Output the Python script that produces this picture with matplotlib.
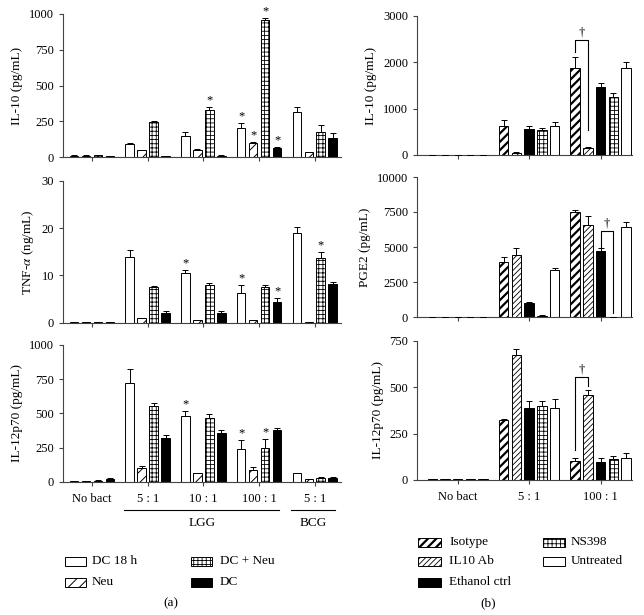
import numpy as np
import matplotlib
matplotlib.use('Agg')
import matplotlib.pyplot as plt
import matplotlib.transforms as mtransforms
from matplotlib.patches import Rectangle

plt.rcParams['font.family'] = ['Liberation Serif', 'DejaVu Serif']
plt.rcParams['mathtext.fontset'] = 'stix'
plt.rcParams['font.size'] = 9

# ---- data, panel (a) ----
a_groups = ['No bact', '5 : 1', '10 : 1', '100 : 1', '5 : 1']
a_series = ['DC 18 h', 'Neu', 'DC + Neu', 'DC']

a_il10 = [[10, 93, 150, 200, 315],
          [10, 50, 50, 100, 35],
          [13, 243, 332, 955, 177],
          [8, 8, 10, 62, 135]]
a_il10_err = [[2, 5, 28, 35, 35],
              [1, 2, 3, 6, 3],
              [2, 10, 15, 18, 47],
              [1, 2, 2, 8, 33]]
a_il10_stars = [(2, 2), (3, 0), (3, 1), (3, 2), (3, 3)]

a_tnf = [[0.1, 13.9, 10.6, 6.2, 18.9],
         [0.05, 1.0, 0.6, 0.6, 0.1],
         [0.1, 7.5, 8.0, 7.5, 13.6],
         [0.1, 2.0, 2.0, 4.4, 8.2]]
a_tnf_err = [[0, 1.5, 0.6, 1.7, 1.4],
             [0, 0, 0, 0, 0],
             [0, 0.3, 0.4, 0.5, 1.3],
             [0, 0.4, 0.4, 0.9, 0.5]]
a_tnf_stars = [(2, 0), (3, 0), (3, 3), (4, 2)]

a_il12 = [[5, 724, 480, 237, 60],
          [5, 102, 60, 83, 20],
          [8, 554, 468, 249, 27],
          [20, 320, 358, 378, 28]]
a_il12_err = [[1, 100, 35, 70, 4],
              [1, 12, 3, 25, 2],
              [2, 25, 30, 60, 4],
              [4, 25, 20, 12, 3]]
a_il12_stars = [(2, 0), (3, 0), (3, 2)]

# ---- data, panel (b) ----
b_groups = ['No bact', '5 : 1', '100 : 1']
b_series = ['Isotype', 'IL10 Ab', 'Ethanol ctrl', 'NS398', 'Untreated']

b_il10 = [[10, 626, 1885],
          [10, 50, 158],
          [10, 554, 1460],
          [10, 540, 1259],
          [10, 633, 1885]]
b_il10_err = [[0, 136, 237], [0, 5, 15], [0, 70, 100], [0, 40, 80], [0, 90, 122]]

b_pge2 = [[30, 3905, 7500],
          [30, 4450, 6600],
          [30, 1000, 4700],
          [30, 100, 30],
          [30, 3333, 6450]]
b_pge2_err = [[0, 400, 150], [0, 450, 600], [0, 100, 250], [0, 30, 0], [0, 150, 350]]

b_il12 = [[5, 323, 104],
          [5, 671, 458],
          [5, 386, 95],
          [5, 398, 111],
          [5, 386, 120]]
b_il12_err = [[0, 5, 12], [0, 35, 25], [0, 40, 25], [0, 25, 20], [0, 50, 25]]

# bracket: group, bar1, bar2, top, left foot, right foot
b_il10_bracket = (2, 0, 1, 2480, 2230, 540)
b_pge2_bracket = (2, 2, 3, 6150, 4950, 300)
b_il12_bracket = (2, 0, 1, 553, 160, 505)

a_styles = [dict(color='white', hatch=None, hlw=0.7),
            dict(color='white', hatch='///', hlw=0.7),
            dict(color='white', hatch='++++', hlw=0.6),
            dict(color='black', hatch=None, hlw=0.7)]
b_styles = [dict(color='white', hatch='////', hlw=1.6),
            dict(color='white', hatch='//////', hlw=0.6),
            dict(color='black', hatch=None, hlw=0.7),
            dict(color='white', hatch='++++', hlw=0.6),
            dict(color='white', hatch=None, hlw=0.7)]

W, H = 644, 615
fig = plt.figure(figsize=(W / 100, H / 100), dpi=100)


def px_axes(x0, x1, ytop, ybot):
    return fig.add_axes([x0 / W, 1 - ybot / H, (x1 - x0) / W, (ybot - ytop) / H])


def set_hlw(patch, lw):
    try:
        patch.set_hatch_linewidth(lw)
    except AttributeError:
        pass


def panel(ax, vals, errs, styles, step, width, xlim, ylim, yticks, ylabel, labels=None):
    n = len(vals)
    x = np.arange(len(vals[0]))
    pos = []
    for k in range(n):
        xs = x + (k - (n - 1) / 2) * step
        pos.append(xs)
        st = styles[k]
        with plt.rc_context({'hatch.linewidth': st['hlw']}):
            bars = ax.bar(xs, vals[k], width, color=st['color'], edgecolor='black',
                          hatch=st['hatch'], linewidth=0.7, zorder=2)
        for b in bars:
            set_hlw(b, st['hlw'])
        ax.errorbar(xs, vals[k], yerr=[np.zeros(len(xs)), errs[k]], fmt='none',
                    ecolor='black', elinewidth=0.7, capsize=2.2, capthick=0.7, zorder=3)
    ax.set_xlim(*xlim)
    ax.set_ylim(*ylim)
    ax.set_yticks(yticks)
    ax.set_xticks(x)
    ax.set_xticklabels(labels if labels else [''] * len(x), fontsize=9.5)
    ax.set_ylabel(ylabel, fontsize=9.5, labelpad=4)
    for s in ['top', 'right']:
        ax.spines[s].set_visible(False)
    for s in ['left', 'bottom']:
        ax.spines[s].set_linewidth(0.8)
        ax.spines[s].set_color('#444444')
    ax.tick_params(direction='out', length=3, width=0.8, color='#444444', labelsize=9)
    ax.tick_params(axis='x', pad=5)
    return pos


def stars(ax, pos, vals, errs, which):
    for g, k in which:
        ax.annotate('*', xy=(pos[k][g], vals[k][g] + errs[k][g]), xytext=(0, 0.5),
                    textcoords='offset points', ha='center', va='bottom', fontsize=9,
                    annotation_clip=False)


def bracket(ax, pos, br):
    g, k1, k2, top, f1, f2 = br
    x1, x2 = pos[k1][g], pos[k2][g]
    ax.plot([x1, x1, x2, x2], [f1, top, top, f2], color='black', lw=0.8, clip_on=False)
    ax.annotate('\u2020', xy=((x1 + x2) / 2, top), xytext=(0, 1), textcoords='offset points',
                ha='center', va='bottom', fontsize=9, annotation_clip=False)


a_step, a_width, a_xlim = 0.215, 0.155, (-0.52, 4.47)
b_step, b_width, b_xlim = 0.178, 0.133, (-0.57, 2.44)

# panel (a)
ax1 = px_axes(63, 341, 14, 157)
p = panel(ax1, a_il10, a_il10_err, a_styles, a_step, a_width, a_xlim, (0, 1000),
          [0, 250, 500, 750, 1000], 'IL-10 (pg/mL)')
stars(ax1, p, a_il10, a_il10_err, a_il10_stars)

ax2 = px_axes(63, 341, 180.7, 322.7)
p = panel(ax2, a_tnf, a_tnf_err, a_styles, a_step, a_width, a_xlim, (0, 30),
          [0, 10, 20, 30], 'TNF-$\\alpha$ (ng/mL)')
stars(ax2, p, a_tnf, a_tnf_err, a_tnf_stars)

ax3 = px_axes(63, 341, 345, 481.7)
p = panel(ax3, a_il12, a_il12_err, a_styles, a_step, a_width, a_xlim, (0, 1000),
          [0, 250, 500, 750, 1000], 'IL-12p70 (pg/mL)', labels=a_groups)
stars(ax3, p, a_il12, a_il12_err, a_il12_stars)

# LGG / BCG group lines
tr = mtransforms.blended_transform_factory(ax3.transData, fig.transFigure)
ly = 1 - 509.6 / H
ax3.plot([0.58, 3.36], [ly, ly], color='black', lw=0.8, transform=tr, clip_on=False)
ax3.plot([3.57, 4.36], [ly, ly], color='black', lw=0.8, transform=tr, clip_on=False)
ax3.text(1.97, 1 - 522.6 / H, 'LGG', transform=tr, ha='center', va='center', fontsize=9.5)
ax3.text(3.965, 1 - 522.6 / H, 'BCG', transform=tr, ha='center', va='center', fontsize=9.5)

# panel (b)
ax4 = px_axes(417, 632, 16, 155)
p = panel(ax4, b_il10, b_il10_err, b_styles, b_step, b_width, b_xlim, (0, 3000),
          [0, 1000, 2000, 3000], 'IL-10 (pg/mL)')
bracket(ax4, p, b_il10_bracket)

ax5 = px_axes(417, 632, 177, 317)
p = panel(ax5, b_pge2, b_pge2_err, b_styles, b_step, b_width, b_xlim, (0, 10000),
          [0, 2500, 5000, 7500, 10000], 'PGE2 (pg/mL)')
bracket(ax5, p, b_pge2_bracket)

ax6 = px_axes(417, 632, 340.7, 480)
p = panel(ax6, b_il12, b_il12_err, b_styles, b_step, b_width, b_xlim, (0, 750),
          [0, 250, 500, 750], 'IL-12p70 (pg/mL)', labels=b_groups)
bracket(ax6, p, b_il12_bracket)


# legends, drawn as boxes in figure space
def legend_item(x0, x1, yc, st, label, tx):
    with plt.rc_context({'hatch.linewidth': st['hlw']}):
        r = Rectangle((x0 / W, 1 - (yc + 4.5) / H), (x1 - x0) / W, 9 / H,
                      facecolor=st['color'], edgecolor='black', hatch=st['hatch'],
                      linewidth=0.7, transform=fig.transFigure)
    set_hlw(r, st['hlw'])
    fig.add_artist(r)
    fig.text(tx / W, 1 - yc / H, label, ha='left', va='center', fontsize=9.5)


legend_item(64.5, 86, 561.4, a_styles[0], a_series[0], 92)
legend_item(64.5, 86, 582, a_styles[1], a_series[1], 92)
legend_item(191, 212, 561.4, a_styles[2], a_series[2], 220)
legend_item(191, 212, 582, a_styles[3], a_series[3], 220)

legend_item(418, 441, 542, b_styles[0], b_series[0], 449)
legend_item(418, 441, 561.4, b_styles[1], b_series[1], 449)
legend_item(418, 441, 582, b_styles[2], b_series[2], 449)
legend_item(543, 565, 542, b_styles[3], b_series[3], 571)
legend_item(543, 565, 561.4, b_styles[4], b_series[4], 571)

fig.text(171 / W, 1 - 603 / H, '(a)', ha='center', va='center', fontsize=9.5)
fig.text(488 / W, 1 - 603 / H, '(b)', ha='center', va='center', fontsize=9.5)

fig.savefig('out.png', dpi=100)
